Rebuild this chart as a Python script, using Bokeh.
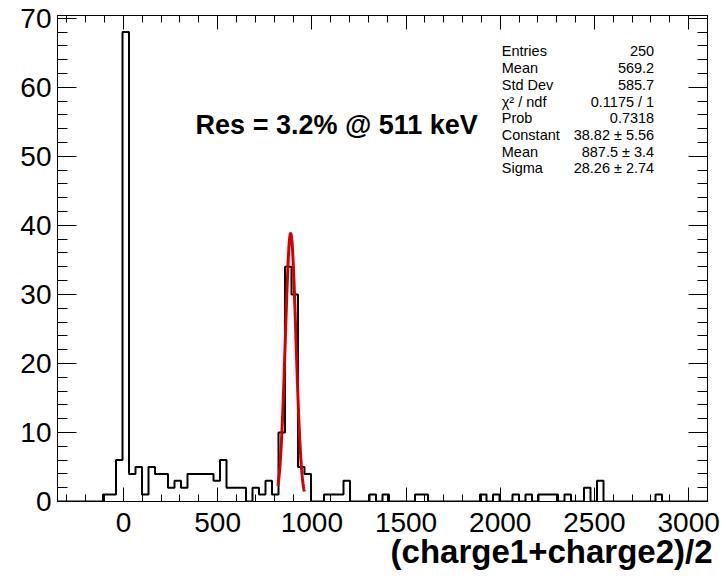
import numpy as np
from bokeh.plotting import figure
from bokeh.models import Range1d, SingleIntervalTicker, LinearAxis, Label, Title
from bokeh.embed import file_html
from bokeh.resources import INLINE

# ---------------- data ----------------
x_min, x_max, n_bins = -350.0, 3100.0, 100
counts = [0, 0, 0, 0, 0, 0, 0, 1, 1, 6,
          68, 4, 5, 1, 5, 4, 4, 2, 3, 2,
          4, 4, 4, 4, 3, 6, 2, 2, 2, 0,
          2, 1, 3, 1, 10, 34, 30, 5, 4, 0,
          0, 1, 1, 1, 3, 0, 0, 0, 1, 0,
          1, 0, 0, 0, 0, 1, 1, 0, 0, 0,
          0, 0, 0, 0, 0, 1, 0, 1, 0, 0,
          1, 0, 1, 0, 1, 1, 1, 0, 1, 0,
          0, 2, 0, 3, 0, 0, 0, 0, 0, 0,
          0, 0, 1, 0, 0, 0, 0, 0, 0, 0]
fit_constant, fit_mean, fit_sigma = 38.82, 887.5, 28.26
fit_lo, fit_hi = 820.0, 960.0
stat_names = ["Entries", "Mean", "Std Dev", "\u03c7\u00b2 / ndf", "Prob",
              "Constant", "Mean", "Sigma"]
stat_values = ["250", "569.2", "585.7", "0.1175 / 1", "0.7318",
               "38.82 \u00b1 5.56", "887.5 \u00b1 3.4", "28.26 \u00b1 2.74"]
res_text = "Res = 3.2% @ 511 keV"
x_title = "(charge1+charge2)/2"

# ---------------- figure ----------------
FONT = "Liberation Sans"
y_max = 70.4
p = figure(width=726, height=577, output_backend="svg", toolbar_location=None,
           x_range=Range1d(x_min, x_max), y_range=Range1d(0, y_max),
           min_border_left=57, min_border_right=19, min_border_top=15,
           min_border_bottom=76, x_axis_location=None, y_axis_location=None)
p.grid.visible = False
p.outline_line_color = "black"
p.outline_line_width = 1
p.background_fill_color = "white"
p.border_fill_color = "white"


def make_axis(interval, show_labels, tin, tmin, standoff=6):
    ax = LinearAxis(ticker=SingleIntervalTicker(interval=interval, num_minor_ticks=5))
    ax.major_tick_in = tin
    ax.major_tick_out = 0
    ax.minor_tick_in = tmin
    ax.minor_tick_out = 0
    ax.axis_line_color = "black"
    ax.major_tick_line_color = "black"
    ax.minor_tick_line_color = "black"
    if show_labels:
        ax.major_label_text_font = FONT
        ax.major_label_text_font_size = "28px"
        ax.major_label_text_color = "black"
        ax.major_label_standoff = standoff
    else:
        ax.major_label_text_font_size = "0px"
        ax.major_label_text_color = None
        ax.major_label_standoff = 0
    return ax

p.add_layout(make_axis(500, True, 14, 7, standoff=11), "below")
p.add_layout(make_axis(500, False, 14, 7), "above")
p.add_layout(make_axis(10, True, 19, 10, standoff=6), "left")
p.add_layout(make_axis(10, False, 19, 10), "right")

# axis title, right-aligned under the x axis
p.add_layout(Title(text=x_title, align="right", text_font=FONT, text_font_size="33px",
                   text_font_style="bold", text_color="black", offset=-5, standoff=-8),
             "below")

# histogram outline
edges = np.linspace(x_min, x_max, n_bins + 1)
c = np.array(counts, dtype=float)
xs = np.repeat(edges, 2)[1:-1]
ys = np.repeat(c, 2)
xs = np.concatenate([[edges[0]], xs, [edges[-1]]])
ys = np.concatenate([[0.0], ys, [0.0]])
p.line(xs, ys, line_color="black", line_width=2)

# gaussian fit
fx = np.linspace(fit_lo, fit_hi, 300)
fy = fit_constant * np.exp(-0.5 * ((fx - fit_mean) / fit_sigma) ** 2)
p.line(fx, fy, line_color="#d40000", line_width=3)

# stats box texts
row0, dy = 65.2, 2.42
for i, (n, v) in enumerate(zip(stat_names, stat_values)):
    y = row0 - i * dy
    p.add_layout(Label(x=2008, y=y, text=n, text_font=FONT, text_font_size="14.5px",
                       text_align="left", text_baseline="alphabetic", text_color="black"))
    p.add_layout(Label(x=2817, y=y, text=v, text_font=FONT, text_font_size="14.5px",
                       text_align="right", text_baseline="alphabetic", text_color="black"))

p.add_layout(Label(x=383, y=54.6, text=res_text, text_font=FONT, text_font_size="27px",
                   text_font_style="bold", text_align="left", text_baseline="alphabetic",
                   text_color="black"))

open("out.html", "w").write(file_html(p, INLINE))
